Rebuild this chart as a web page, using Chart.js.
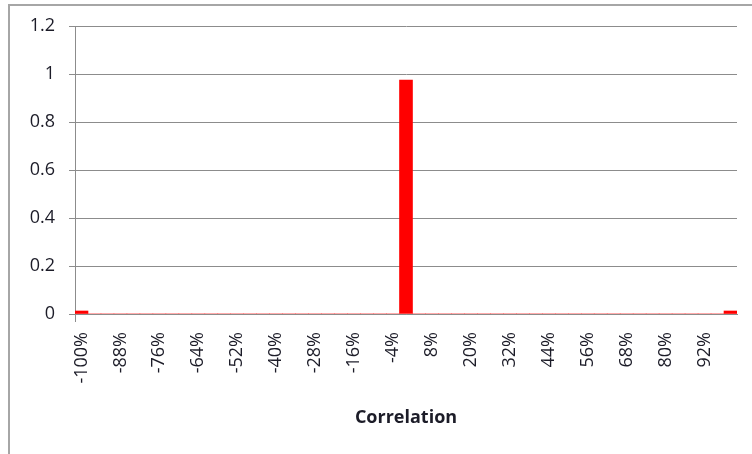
<!DOCTYPE html>
<html>
<head>
<meta charset="utf-8">
<script src="https://cdn.jsdelivr.net/npm/chart.js@4.4.1/dist/chart.umd.min.js"></script>
<style>
    html, body { margin: 0; padding: 0; background: #fff; overflow: hidden; }
    #wrap { position: relative; width: 752px; height: 454px; }
    #frame {
        position: absolute; left: 8px; top: 4px;
        width: 800px; height: 500px;
        border: 2px solid #a6a6a6;
    }
    #myChart { position: absolute; left: 0; top: 0; }
</style>
</head>
<body>
<div id="wrap">
    <div id="frame"></div>
    <canvas id="myChart" width="752" height="454"></canvas>
</div>
<script>
// correlation buckets, 4% wide
const categories = [
    '-100%', '-96%', '-92%', '-88%', '-84%', '-80%', '-76%', '-72%', '-68%', '-64%',
    '-60%', '-56%', '-52%', '-48%', '-44%', '-40%', '-36%', '-32%', '-28%', '-24%',
    '-20%', '-16%', '-12%', '-8%', '-4%', '0%', '4%', '8%', '12%', '16%',
    '20%', '24%', '28%', '32%', '36%', '40%', '44%', '48%', '52%', '56%',
    '60%', '64%', '68%', '72%', '76%', '80%', '84%', '88%', '92%', '96%',
    '100%'
];

// share of observations per bucket
const frequency = [
    0.0125, 0, 0, 0, 0, 0, 0, 0, 0, 0,
    0, 0, 0, 0, 0, 0, 0, 0, 0, 0,
    0, 0, 0, 0, 0, 0.975, 0, 0, 0, 0,
    0, 0, 0, 0, 0, 0, 0, 0, 0, 0,
    0, 0, 0, 0, 0, 0, 0, 0, 0, 0,
    0.0125
];

const gridColor = '#8c8c8c';
const labelColor = '#1c1c28';

const ctx = document.getElementById('myChart').getContext('2d');
const chart = new Chart(ctx, {
    type: 'bar',
    data: {
        labels: categories,
        datasets: [{
            data: frequency,
            backgroundColor: '#ff0000',
            borderWidth: 0,
            barPercentage: 1,
            categoryPercentage: 1
        }]
    },
    options: {
        responsive: false,
        devicePixelRatio: 1,
        animation: false,
        layout: { padding: { left: 0, right: 15, top: 26, bottom: 0 } },
        plugins: {
            legend: { display: false },
            tooltip: { enabled: false }
        },
        scales: {
            x: {
                grid: {
                    drawOnChartArea: false,
                    tickLength: 8,
                    color: c => c.index === 0 ? gridColor : 'rgba(0,0,0,0)'
                },
                border: { color: gridColor },
                ticks: {
                    autoSkip: false,
                    minRotation: 90,
                    maxRotation: 90,
                    padding: 10,
                    color: labelColor,
                    font: { family: 'Open Sans', size: 18 },
                    callback: (v, i) => i % 3 === 0 ? categories[i] : ''
                },
                title: {
                    display: true,
                    text: 'Correlation',
                    color: labelColor,
                    font: { family: 'Open Sans', size: 18, weight: 'bold' },
                    padding: { top: 0, bottom: 25 }
                },
                afterFit: scale => {
                    scale.height = 454 - 314;
                    // rotated labels should not push the plot edges inward
                    scale.paddingLeft = 0;
                    scale.paddingRight = 0;
                }
            },
            y: {
                min: 0,
                max: 1.2,
                ticks: {
                    stepSize: 0.2,
                    padding: 14,
                    color: labelColor,
                    font: { family: 'Open Sans', size: 18 },
                    callback: v => String(Math.round(v * 10) / 10)
                },
                grid: { color: gridColor, tickLength: 6 },
                border: { color: gridColor },
                afterFit: scale => { scale.width = 75; }
            }
        }
    }
});
</script>
</body>
</html>
